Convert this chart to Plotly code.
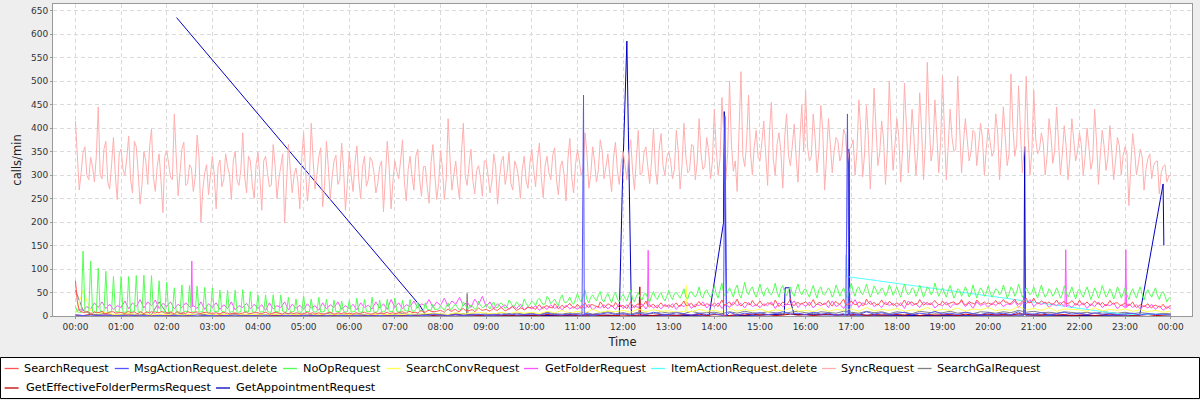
import pandas as pd
import plotly.graph_objects as go

BASE = pd.Timestamp("2000-01-01")

# ---------------- data (calls/min) ----------------
# SyncRequest, every 5 min from 00:00 to 24:00
sync_req = [
    415, 268, 348, 300, 338, 285, 445, 292, 372, 270, 380, 248,
    355, 300, 383, 262, 360, 238, 350, 280, 398, 265, 345, 220,
    352, 296, 430, 256, 355, 278, 322, 265, 385, 200, 305, 258,
    340, 228, 332, 290, 318, 248, 350, 278, 390, 262, 330, 250,
    348, 225, 340, 275, 365, 250, 318, 198, 365, 262, 315, 228,
    390, 245, 410, 270, 340, 232, 372, 248, 330, 280, 368, 225,
    350, 265, 362, 250, 340, 290, 330, 262, 318, 222, 372, 228,
    330, 292, 375, 245, 340, 268, 355, 255, 318, 240, 365, 248,
    352, 248, 420, 268, 330, 248, 410, 278, 355, 260, 320, 255,
    330, 262, 345, 238, 330, 280, 348, 268, 318, 250, 340, 272,
    355, 275, 368, 252, 340, 290, 358, 258, 330, 245, 378, 262,
    355, 300, 390, 272, 360, 285, 375, 292, 345, 265, 370, 280,
    350, 290, 375, 268, 395, 305, 360, 282, 400, 280, 388, 300,
    350, 292, 395, 270, 410, 305, 365, 290, 420, 312, 380, 292,
    440, 300, 465, 290, 500, 308, 265, 520, 318, 470, 300, 395,
    330, 415, 278, 455, 300, 390, 272, 430, 320, 408, 285, 450,
    480, 330, 430, 305, 448, 268, 420, 305, 380, 330, 398, 325,
    360, 300, 460, 296, 448, 270, 485, 320, 415, 280, 500, 310,
    420, 285, 495, 305, 440, 300, 475, 290, 540, 330, 460, 305,
    510, 290, 440, 350, 510, 305, 420, 330, 395, 320, 410, 300,
    400, 340, 430, 290, 445, 320, 515, 340, 490, 305, 510, 300,
    480, 345, 390, 300, 420, 325, 445, 300, 405, 290, 420, 330,
    390, 300, 400, 312, 440, 280, 395, 310, 405, 290, 380, 300,
    360, 235, 388, 300, 355, 268, 335, 292, 328, 260, 318, 285,
    300,
]
# SyncRequest, samples in between (00:02:30, 00:07:30, ...)
sync_mid = [
    330, 305, 360, 290, 318, 342, 300, 355, 285, 322, 298, 345,
    312, 336, 290, 372, 305, 280, 330, 360, 295, 318, 288, 340,
    325, 290, 340, 305, 370, 282, 315, 295, 338, 270, 322, 300,
    300, 318, 275, 345, 302, 330, 288, 312, 296, 340, 280, 322,
    295, 330, 305, 278, 320, 292, 345, 268, 312, 300, 285, 335,
    310, 288, 332, 300, 358, 275, 318, 296, 342, 290, 314, 280,
    300, 325, 290, 318, 276, 338, 305, 282, 330, 296, 315, 288,
    308, 330, 285, 312, 298, 340, 290, 318, 275, 326, 300, 282,
    315, 290, 335, 300, 282, 345, 298, 320, 288, 310, 295, 330,
    300, 285, 318, 292, 340, 305, 282, 330, 296, 312, 288, 325,
    310, 335, 295, 320, 305, 342, 290, 318, 300, 335, 295, 322,
    330, 312, 345, 300, 328, 310, 352, 318, 300, 338, 310, 325,
    322, 345, 310, 335, 300, 348, 318, 330, 312, 355, 320, 338,
    330, 312, 352, 322, 340, 310, 362, 328, 345, 318, 350, 330,
    355, 335, 380, 345, 362, 330, 395, 340, 372, 348, 360, 338,
    370, 345, 392, 335, 365, 350, 380, 342, 362, 338, 375, 350,
    360, 340, 378, 352, 395, 338, 365, 350, 372, 345, 385, 355,
    375, 350, 395, 345, 380, 362, 402, 348, 375, 355, 390, 365,
    382, 355, 405, 362, 378, 350, 395, 368, 410, 358, 385, 370,
    395, 362, 380, 355, 402, 368, 375, 350, 390, 362, 378, 355,
    372, 350, 390, 362, 380, 345, 405, 365, 392, 358, 385, 350,
    378, 355, 368, 340, 385, 352, 372, 345, 362, 338, 375, 350,
    365, 340, 358, 332, 372, 345, 360, 338, 352, 330, 362, 342,
    345, 318, 352, 325, 338, 312, 345, 320, 330, 305, 322, 298,
]

# NoOpRequest, every 5 min
noop_req = [
    20, 8, 138, 9, 117, 8, 102, 10, 95, 8, 84, 9,
    84, 8, 84, 10, 86, 9, 87, 8, 86, 10, 75, 8,
    72, 9, 60, 8, 66, 10, 65, 8, 64, 9, 61, 8,
    60, 10, 55, 8, 55, 9, 55, 8, 56, 10, 52, 8,
    45, 9, 45, 8, 45, 10, 45, 8, 40, 9, 36, 8,
    43, 10, 36, 8, 40, 9, 36, 8, 34, 10, 32, 8,
    33, 9, 38, 8, 35, 10, 40, 8, 34, 9, 36, 10,
    38, 9, 33, 11, 35, 10, 30, 12, 28, 13, 25, 14,
    22, 12, 28, 15, 25, 12, 30, 16, 24, 14, 32, 18,
    26, 15, 30, 18, 28, 16, 34, 20, 30, 18, 36, 20,
    32, 22, 38, 24, 42, 26, 36, 22, 45, 28, 40, 25,
    48, 30, 55, 28, 45, 32, 52, 30, 48, 28, 50, 30,
    46, 32, 55, 30, 50, 34, 48, 30, 52, 35, 50, 32,
    55, 35, 50, 38, 58, 36, 52, 40, 62, 38, 56, 40,
    64, 38, 70, 42, 60, 40, 66, 38, 72, 45, 62, 40,
    68, 42, 60, 45, 70, 40, 65, 44, 62, 42, 68, 45,
    58, 40, 65, 38, 62, 45, 60, 40, 66, 42, 60, 38,
    70, 42, 62, 45, 68, 40, 64, 46, 60, 42, 66, 44,
    62, 40, 68, 45, 60, 42, 66, 40, 62, 45, 70, 42,
    60, 40, 65, 38, 58, 42, 62, 40, 66, 38, 60, 42,
    64, 40, 58, 45, 66, 38, 62, 42, 68, 40, 60, 45,
    62, 38, 66, 40, 58, 42, 60, 38, 64, 40, 62, 36,
    58, 40, 62, 35, 60, 38, 65, 40, 58, 36, 62, 38,
    60, 35, 58, 38, 62, 34, 56, 40, 60, 35, 52, 30,
    40,
]
noop_mid = [
    9, 8, 10, 7, 9, 8, 10, 9, 8, 10, 9, 8,
    8, 9, 7, 10, 8, 9, 10, 8, 9, 7, 10, 9,
    8, 10, 9, 7, 9, 8, 10, 9, 8, 9, 10, 8,
    9, 8, 10, 9, 7, 9, 8, 10, 9, 8, 9, 10,
    8, 9, 10, 8, 9, 7, 10, 9, 8, 10, 9, 8,
    9, 8, 10, 9, 8, 10, 9, 7, 9, 8, 10, 9,
    8, 10, 9, 8, 10, 9, 8, 10, 9, 11, 10, 9,
    10, 9, 12, 10, 11, 13, 12, 10, 14, 12, 13, 15,
    16, 20, 14, 22, 18, 15, 24, 17, 20, 16, 22, 19,
    20, 24, 18, 26, 22, 20, 28, 22, 25, 21, 27, 24,
    28, 34, 30, 26, 36, 31, 28, 38, 30, 33, 29, 36,
    36, 42, 35, 40, 38, 44, 34, 41, 37, 43, 36, 40,
    38, 44, 36, 42, 40, 46, 37, 43, 39, 45, 38, 42,
    42, 48, 44, 46, 40, 50, 45, 48, 43, 52, 46, 49,
    48, 55, 46, 52, 50, 58, 47, 54, 52, 57, 49, 53,
    52, 56, 48, 54, 51, 58, 50, 55, 49, 57, 52, 55,
    48, 54, 50, 56, 47, 52, 53, 49, 55, 51, 48, 54,
    52, 58, 50, 55, 53, 49, 56, 52, 54, 50, 57, 53,
    50, 55, 52, 49, 56, 51, 54, 50, 57, 52, 55, 51,
    49, 54, 51, 47, 55, 50, 53, 48, 52, 50, 54, 49,
    51, 48, 55, 50, 53, 47, 56, 51, 54, 49, 52, 50,
    48, 53, 50, 47, 52, 49, 51, 46, 53, 50, 48, 52,
    47, 52, 49, 46, 51, 48, 53, 47, 50, 46, 52, 48,
    46, 50, 47, 52, 45, 49, 47, 51, 44, 48, 42, 38,
]

# SearchRequest, every 5 min
search_req = [
    75, 12, 8, 10, 6, 9, 7, 10, 5, 8, 9, 6,
    8, 5, 10, 7, 6, 9, 5, 8, 10, 6, 7, 9,
    6, 8, 5, 9, 7, 5, 8, 6, 9, 5, 7, 6,
    5, 7, 4, 8, 6, 5, 7, 4, 6, 8, 5, 7,
    7, 5, 8, 4, 6, 7, 5, 8, 4, 6, 7, 5,
    5, 8, 6, 4, 7, 5, 6, 8, 4, 7, 5, 6,
    6, 4, 7, 5, 8, 6, 4, 7, 6, 5, 8, 6,
    5, 7, 9, 6, 10, 8, 6, 11, 8, 12, 9, 10,
    12, 8, 15, 10, 14, 9, 16, 11, 13, 9, 17, 12,
    14, 10, 16, 12, 18, 11, 15, 20, 12, 17, 13, 19,
    20, 14, 24, 16, 22, 18, 26, 15, 23, 19, 27, 17,
    25, 16, 28, 18, 24, 20, 30, 17, 26, 21, 29, 18,
    22, 16, 30, 18, 26, 20, 32, 19, 25, 17, 28, 21,
    24, 18, 28, 20, 32, 22, 27, 19, 31, 23, 26, 20,
    28, 20, 34, 22, 30, 24, 36, 21, 29, 25, 33, 22,
    32, 22, 28, 25, 34, 20, 30, 24, 37, 22, 29, 26,
    30, 22, 35, 24, 28, 26, 33, 21, 31, 25, 36, 23,
    32, 24, 30, 22, 36, 25, 29, 23, 34, 26, 31, 22,
    28, 22, 34, 24, 30, 26, 35, 23, 29, 25, 33, 24,
    32, 24, 28, 30, 26, 35, 24, 31, 27, 34, 25, 30,
    28, 24, 33, 26, 35, 30, 27, 36, 25, 32, 38, 28,
    38, 26, 32, 28, 30, 25, 34, 24, 31, 27, 33, 23,
    34, 24, 30, 22, 32, 26, 29, 21, 33, 25, 28, 22,
    28, 22, 30, 18, 24, 20, 26, 17, 23, 19, 25, 16,
    22,
]
search_mid = [
    30, 9, 7, 8, 6, 7, 8, 6, 7, 9, 6, 7,
    6, 8, 7, 9, 5, 7, 8, 6, 7, 8, 9, 6,
    7, 6, 8, 5, 7, 9, 6, 8, 5, 7, 8, 6,
    6, 5, 7, 6, 4, 7, 5, 6, 8, 5, 6, 7,
    5, 7, 6, 5, 8, 6, 4, 6, 7, 5, 6, 4,
    6, 5, 7, 6, 5, 4, 7, 6, 5, 6, 7, 5,
    5, 6, 5, 7, 6, 4, 6, 5, 7, 6, 5, 7,
    6, 8, 7, 9, 7, 8, 10, 9, 11, 10, 9, 11,
    10, 12, 11, 13, 10, 14, 12, 11, 13, 12, 14, 13,
    12, 14, 13, 16, 14, 13, 17, 15, 14, 16, 15, 17,
    16, 20, 18, 21, 19, 17, 22, 20, 18, 23, 21, 19,
    20, 23, 21, 24, 22, 19, 25, 22, 24, 21, 23, 22,
    19, 23, 22, 24, 21, 25, 22, 23, 20, 24, 22, 21,
    21, 24, 22, 26, 23, 25, 21, 27, 24, 22, 25, 23,
    24, 27, 25, 28, 23, 29, 26, 25, 28, 24, 27, 26,
    26, 24, 27, 23, 28, 25, 26, 29, 24, 27, 25, 28,
    25, 28, 26, 29, 24, 27, 25, 28, 26, 30, 25, 27,
    27, 25, 28, 24, 29, 26, 25, 28, 27, 24, 28, 26,
    25, 28, 26, 29, 25, 27, 28, 26, 24, 29, 27, 25,
    27, 26, 29, 25, 28, 27, 26, 28, 25, 29, 27, 26,
    26, 28, 27, 30, 29, 26, 31, 28, 27, 30, 29, 31,
    30, 28, 29, 27, 26, 28, 27, 29, 26, 28, 27, 25,
    27, 26, 25, 27, 28, 24, 25, 26, 27, 28, 24, 25,
    24, 25, 22, 21, 22, 23, 20, 22, 21, 20, 19, 20,
]

# GetFolderRequest, every 5 min, plus short spikes
getfolder_req = [
    10, 14, 12, 20, 15, 28, 18, 30, 16, 25, 14, 22,
    18, 32, 15, 28, 20, 35, 17, 30, 22, 34, 16, 27,
    20, 30, 15, 25, 18, 28, 20, 22, 16, 30, 14, 26,
    18, 28, 14, 24, 16, 30, 13, 22, 18, 27, 15, 25,
    16, 24, 12, 28, 15, 22, 18, 30, 13, 25, 16, 23,
    14, 26, 17, 22, 12, 28, 15, 24, 18, 30, 14, 22,
    16, 25, 13, 28, 18, 23, 15, 30, 17, 26, 14, 35,
    18, 28, 15, 24, 20, 32, 17, 26, 22, 35, 18, 30,
    22, 38, 20, 32, 25, 40, 22, 30, 18, 36, 24, 42,
    20, 30, 16, 26, 18, 24, 14, 22, 16, 25, 13, 20,
    15, 22, 12, 20, 14, 24, 16, 21, 13, 23, 15, 20,
    14, 22, 16, 25, 13, 20, 17, 24, 15, 22, 14, 26,
    16, 24, 14, 22, 18, 26, 15, 24, 17, 23, 15, 25,
    18, 26, 14, 24, 20, 28, 16, 25, 22, 30, 17, 26,
    20, 28, 16, 25, 18, 30, 22, 27, 17, 29, 20, 24,
    18, 26, 22, 30, 16, 28, 20, 25, 24, 32, 18, 27,
    20, 30, 17, 26, 22, 28, 18, 32, 20, 25, 16, 28,
    22, 35, 18, 28, 24, 32, 20, 26, 18, 30, 22, 27,
    20, 28, 16, 32, 22, 26, 18, 30, 24, 28, 17, 25,
    22, 30, 18, 26, 24, 32, 20, 28, 16, 30, 22, 26,
    18, 28, 22, 30, 20, 26, 24, 32, 18, 28, 26, 35,
    20, 28, 24, 30, 18, 26, 22, 29, 20, 24, 18, 27,
    22, 28, 16, 26, 20, 30, 18, 25, 22, 28, 15, 24,
    18, 26, 18, 24, 15, 22, 17, 25, 14, 22, 12, 20,
    15,
]
getfolder_spike_t = ["02:32", "02:33", "02:34", "12:32", "12:33", "12:34",
                     "21:41", "21:42", "21:43", "23:01", "23:02"]
getfolder_spike_v = [18, 117, 20, 20, 140, 22, 22, 141, 20, 141, 18]

# SearchConvRequest, every 10 min, plus one spike
searchconv_req = [
    5, 54, 12, 6, 8, 3,  4, 6, 3, 5, 2, 4,  3, 5, 2, 4, 3, 5,
    2, 4, 3, 2, 4, 3,  3, 2, 4, 3, 2, 4,  2, 3, 4, 2, 3, 2,
    3, 2, 3, 4, 2, 3,  4, 3, 5, 3, 6, 4,  5, 3, 7, 4, 6, 8,
    6, 4, 8, 5, 9, 6,  8, 5, 10, 7, 12, 6,  10, 7, 14, 8, 11, 9,
    12, 8, 15, 9, 13, 10,  11, 8, 10, 9, 14, 10,  12, 8, 16, 10, 14, 11,
    15, 9, 13, 11, 17, 10,  12, 9, 16, 10, 14, 12,  15, 10, 18, 11, 14, 12,
    16, 10, 13, 12, 18, 11,  14, 12, 17, 10, 15, 13,  18, 11, 14, 12, 20, 13,
    16, 12, 18, 10, 15, 14,  13, 10, 17, 11, 14, 12,  15, 10, 13, 9, 12, 8,
    10,
]
searchconv_spike_t = ["13:22", "13:23", "13:24"]
searchconv_spike_v = [9, 65, 10]

# SearchGalRequest, every 10 min, plus one spike
searchgal_req = [
    55, 12, 4, 3, 6, 2,  3, 5, 2, 4, 3, 30,  6, 3, 5, 2, 4, 3,
    2, 4, 3, 5, 2, 3,  3, 2, 4, 3, 5, 2,  4, 3, 2, 5, 3, 4,
    2, 4, 3, 2, 5, 3,  3, 5, 2, 4, 3, 6,  4, 3, 6, 5, 5, 3,
    5, 4, 7, 3, 6, 4,  6, 3, 8, 5, 4, 7,  5, 8, 4, 6, 9, 5,
    7, 4, 8, 6, 5, 9,  6, 8, 5, 10, 6, 7,  8, 5, 9, 6, 10, 7,
    6, 9, 7, 5, 8, 10,  7, 5, 9, 8, 6, 10,  8, 6, 10, 7, 9, 5,
    9, 7, 5, 10, 8, 6,  7, 10, 6, 8, 5, 9,  8, 6, 9, 7, 12, 8,
    10, 7, 8, 6, 9, 7,  6, 8, 5, 9, 7, 6,  8, 5, 7, 6, 4, 5,
    5,
]
searchgal_spike_t = ["08:34", "08:35", "08:36"]
searchgal_spike_v = [4, 48, 5]

# GetEffectiveFolderPermsRequest, every 10 min, plus one spike
geteffective_req = [
    2, 1, 3, 1, 2, 1,  1, 2, 1, 3, 1, 2,  1, 1, 2, 1, 3, 1,
    2, 1, 1, 2, 1, 1,  1, 2, 1, 1, 2, 1,  1, 1, 2, 1, 1, 2,
    2, 1, 1, 2, 1, 1,  1, 2, 1, 1, 3, 1,  2, 1, 3, 1, 2, 1,
    1, 3, 1, 2, 1, 2,  2, 1, 3, 2, 1, 3,  1, 2, 3, 1, 2, 1,
    2, 1, 2, 2, 1, 3,  2, 1, 3, 2, 4, 1,  3, 2, 1, 3, 2, 4,
    2, 3, 1, 2, 4, 2,  3, 1, 2, 4, 2, 3,  2, 4, 1, 3, 2, 3,
    3, 2, 4, 1, 3, 2,  2, 3, 1, 4, 2, 3,  4, 2, 3, 2, 5, 3,
    3, 2, 4, 2, 3, 1,  2, 3, 1, 2, 4, 2,  3, 1, 2, 3, 1, 2,
    2,
]
geteffective_spike_t = ["12:21", "12:22", "12:23"]
geteffective_spike_v = [2, 62, 2]

# MsgActionRequest.delete, every 10 min, plus spikes
msgaction_req = [
    2, 1, 0, 1, 2, 0,  1, 0, 2, 1, 0, 1,  0, 1, 1, 0, 2, 1,
    1, 0, 1, 2, 0, 1,  0, 1, 0, 1, 1, 0,  1, 2, 0, 1, 0, 1,
    0, 1, 2, 0, 1, 0,  1, 0, 1, 2, 1, 3,  2, 1, 3, 1, 2, 4,
    1, 3, 2, 5, 2, 3,  4, 2, 6, 3, 2, 5,  3, 6, 2, 4, 7, 3,
    5, 2, 6, 3, 8, 4,  3, 7, 4, 2, 6, 3,  5, 3, 8, 2, 6, 4,
    7, 3, 5, 9, 4, 6,  3, 8, 4, 6, 2, 5,  6, 3, 9, 4, 7, 3,
    5, 8, 3, 6, 4, 10,  4, 6, 3, 8, 5, 3,  7, 4, 6, 3, 9, 5,
    4, 7, 3, 5, 8, 4,  6, 3, 7, 4, 5, 3,  4, 6, 2, 5, 3, 4,
    2,
]
msgaction_spike_t = ["11:06", "11:08", "11:09", "14:12", "14:14", "14:16",
                     "16:53", "16:55", "16:57", "20:47", "20:48", "20:49"]
msgaction_spike_v = [1, 470, 1, 1, 425, 1, 1, 430, 1, 2, 60, 2]

# ItemActionRequest.delete (sparse samples)
itemaction_t = ["16:52", "16:53", "16:54", "22:55", "23:20", "23:40", "23:59"]
itemaction_v = [0, 130, 84, 4, 3, 4, 2]

# GetAppointmentRequest (sparse samples)
getappt_t = ["02:13", "07:33", "07:40", "09:10", "10:20", "11:30", "11:55",
             "11:59", "12:05", "12:11", "13:00", "13:53", "14:12", "14:13",
             "14:16", "15:00", "15:32", "15:33", "15:39", "15:40", "15:45",
             "16:56", "16:57", "16:58", "18:30", "20:47", "20:48", "20:49",
             "22:00", "23:19", "23:50", "23:51"]
getappt_v = [635, 22, 3, 2, 1, 2, 0,
             270, 585, 0, 2, 0, 198, 435,
             0, 2, 4, 60, 60, 32, 3,
             2, 355, 2, 1, 2, 361, 2,
             1, 0, 281, 150]

# ---------------- helpers ----------------
def grid(vals, step, offset=0.0):
    return pd.date_range(BASE + pd.Timedelta(minutes=offset), periods=len(vals), freq=f"{step}min")


def at(hhmm):
    return pd.DatetimeIndex([BASE + pd.Timedelta(hours=int(s[:2]), minutes=int(s[3:]))
                             for s in hhmm])


def merged(vals, step, ex_t, ex_v):
    s = pd.concat([pd.Series(vals, index=grid(vals, step)),
                   pd.Series(ex_v, index=at(ex_t))]).sort_index()
    return s.index, s.values


def interleaved(vals, mids, step):
    s = pd.concat([pd.Series(vals, index=grid(vals, step)),
                   pd.Series(mids, index=grid(mids, step, step / 2))]).sort_index()
    return s.index, s.values


series = {}
series["GetAppointmentRequest"] = (at(getappt_t), getappt_v, "#0000C0")
series["GetEffectiveFolderPermsRequest"] = (*merged(geteffective_req, 10, geteffective_spike_t, geteffective_spike_v), "#C00000")
series["SearchGalRequest"] = (*merged(searchgal_req, 10, searchgal_spike_t, searchgal_spike_v), "#808080")
series["SyncRequest"] = (*interleaved(sync_req, sync_mid, 5), "#FFAFAF")
series["ItemActionRequest.delete"] = (at(itemaction_t), itemaction_v, "#55FFFF")
series["GetFolderRequest"] = (*merged(getfolder_req, 5, getfolder_spike_t, getfolder_spike_v), "#FF55FF")
series["SearchConvRequest"] = (*merged(searchconv_req, 10, searchconv_spike_t, searchconv_spike_v), "#FFFF55")
series["NoOpRequest"] = (*interleaved(noop_req, noop_mid, 5), "#55FF55")
series["MsgActionRequest.delete"] = (*merged(msgaction_req, 10, msgaction_spike_t, msgaction_spike_v), "#5555FF")
series["SearchRequest"] = (*interleaved(search_req, search_mid, 5), "#FF5555")

fig = go.Figure()
for name, (t, v, c) in series.items():
    fig.add_trace(go.Scatter(x=t, y=v, mode="lines", name=name,
                             line=dict(color=c, width=1), showlegend=False))

# ---------------- layout ----------------
L, R, T, B = 53, 8, 4, 84
W, H = 1200, 400
PW, PH = W - L - R, H - T - B
FONT = "DejaVu Sans"


def px(x):
    return (x - L) / PW


def py(y):
    return (H - B - y) / PH


x_lo = BASE - pd.Timedelta(minutes=29.5)
x_hi = BASE + pd.Timedelta(hours=24, minutes=28)

axis_common = dict(showline=True, linecolor="#999999", linewidth=1, mirror=True,
                   ticks="outside", ticklen=2, tickcolor="#999999",
                   showgrid=True, gridcolor="#DADADA", griddash="4px,3px", gridwidth=1,
                   zeroline=False, tickfont=dict(family=FONT, size=9, color="#333333"))

fig.update_layout(
    width=W, height=H, autosize=False,
    margin=dict(l=L, r=R, t=T, b=B, pad=0),
    paper_bgcolor="#EEEEEE", plot_bgcolor="#FFFFFF",
    font=dict(family=FONT, size=11.5, color="#222222"),
    xaxis=dict(type="date", range=[x_lo, x_hi], tick0=BASE, dtick=3600000,
               tickformat="%H:%M",
               title=dict(text="Time", font=dict(family=FONT, size=11.5, color="#222222"), standoff=7),
               **axis_common),
    yaxis=dict(range=[0, 664], tick0=0, dtick=50,
               title=dict(text="calls/min", font=dict(family=FONT, size=11.5, color="#222222"), standoff=6),
               **axis_common),
    showlegend=False,
)

# legend box (drawn manually to match the original layout)
shapes = [dict(type="rect", xref="paper", yref="paper",
               x0=px(0.5), x1=px(1199.5), y0=py(398.5), y1=py(357.5),
               line=dict(color="#000000", width=1), fillcolor="#FFFFFF", layer="above")]
annotations = []
legend_items = [
    ("SearchRequest", "#FF5555", 368, 4.6, 22),
    ("MsgActionRequest.delete", "#5555FF", 368, 114.8, 132),
    ("NoOpRequest", "#55FF55", 368, 283, 301),
    ("SearchConvRequest", "#FFFF55", 368, 386.5, 404.5),
    ("GetFolderRequest", "#FF55FF", 368, 524, 542.7),
    ("ItemActionRequest.delete", "#55FFFF", 368, 651, 669),
    ("SyncRequest", "#FFAFAF", 368, 822, 839),
    ("SearchGalRequest", "#808080", 368, 917.6, 935),
    ("GetEffectiveFolderPermsRequest", "#C00000", 387.5, 4.6, 23.7),
    ("GetAppointmentRequest", "#0000C0", 387.5, 216, 234),
]
for name, col, yy, lx, tx in legend_items:
    shapes.append(dict(type="line", xref="paper", yref="paper",
                       x0=px(lx), x1=px(lx + 14), y0=py(yy + 0.5), y1=py(yy + 0.5),
                       line=dict(color=col, width=1.3), layer="above"))
    annotations.append(dict(xref="paper", yref="paper", x=px(tx), y=py(yy),
                            xanchor="left", yanchor="middle", showarrow=False,
                            text=name, font=dict(family=FONT, size=11.3, color="#000000")))
fig.update_layout(shapes=shapes, annotations=annotations)

fig.write_html("out.html", config={"displayModeBar": False},
               post_script="document.body.style.margin='0';")
